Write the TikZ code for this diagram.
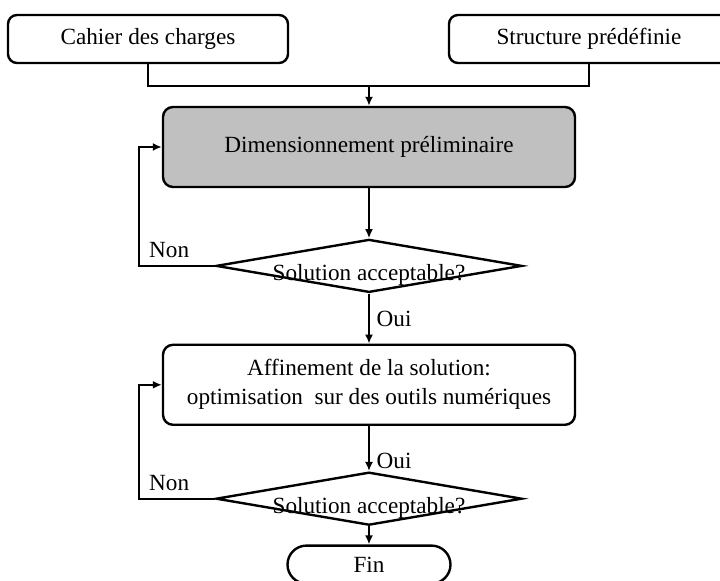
\documentclass[tikz,border=0pt]{standalone}
\usepackage{fontspec}
\setmainfont{Liberation Serif}
\usetikzlibrary{shapes.geometric, arrows.meta, positioning}
\definecolor{gris}{RGB}{192,192,192}

\begin{document}
\begin{tikzpicture}[x=0.5pt, y=-0.5pt,
  font=\fontsize{11.6}{14.5}\selectfont,
  inbox/.style={rectangle, rounded corners=4.5pt, minimum width=140pt, minimum height=24pt, text centered, align=center, draw=black, line width=1.2pt},
  process/.style={rectangle, rounded corners=5pt, minimum width=206pt, minimum height=40pt, text centered, align=center, draw=black, line width=1.2pt},
  decision/.style={diamond, minimum width=153pt, minimum height=26.5pt, inner sep=0pt, draw=black, line width=1.2pt},
  stopbox/.style={rectangle, rounded corners=9.5pt, minimum width=81.5pt, minimum height=19pt, text centered, draw=black, line width=1.2pt},
  arrow/.style={line width=1pt,->,>={Latex[length=4.5pt,width=4pt]}},
  link/.style={line width=1pt}]

  \clip (0,0) rectangle (720,581);

  % Nodes
  \node (cdc) [inbox] at (148,39) {Cahier des charges};
  \node (struct) [inbox] at (589,39) {Structure prédéfinie};
  \node (dim) [process, fill=gris] at (369,147) {Dimensionnement préliminaire};
  \node (sol1) [decision, below=25pt of dim, label={[yshift=-4.5pt]center:Solution acceptable?}] {};
  \node (affin) [process, below=25pt of sol1] {Affinement de la solution:\\ optimisation~ sur des outils numériques};
  \node (sol2) [decision, below=22.5pt of affin, label={[yshift=-4.5pt]center:Solution acceptable?}] {};
  \node (fin) [stopbox, below=9pt of sol2] {Fin};

  % Arrows
  \draw [link] (cdc.south) -- ++(0,22) coordinate (join) -| (struct.south);
  \draw [arrow] (join -| dim.north) -- (dim.north);
  \draw [arrow] (dim) -- (sol1);
  \draw [arrow] (sol1.west) -- node[above, pos=0.6] {Non} ++(-76,0) |- (dim.west);

  \draw [arrow] (sol1) -- node[right] {Oui} (affin);
  \draw [arrow] (affin) -- node[right, pos=0.77] {Oui} (sol2);
  \draw [arrow] (sol2.west) -- node[above, pos=0.6] {Non} ++(-76,0) |- (affin.west);
  \draw [arrow] (sol2) -- (fin);
\end{tikzpicture}
\end{document}
